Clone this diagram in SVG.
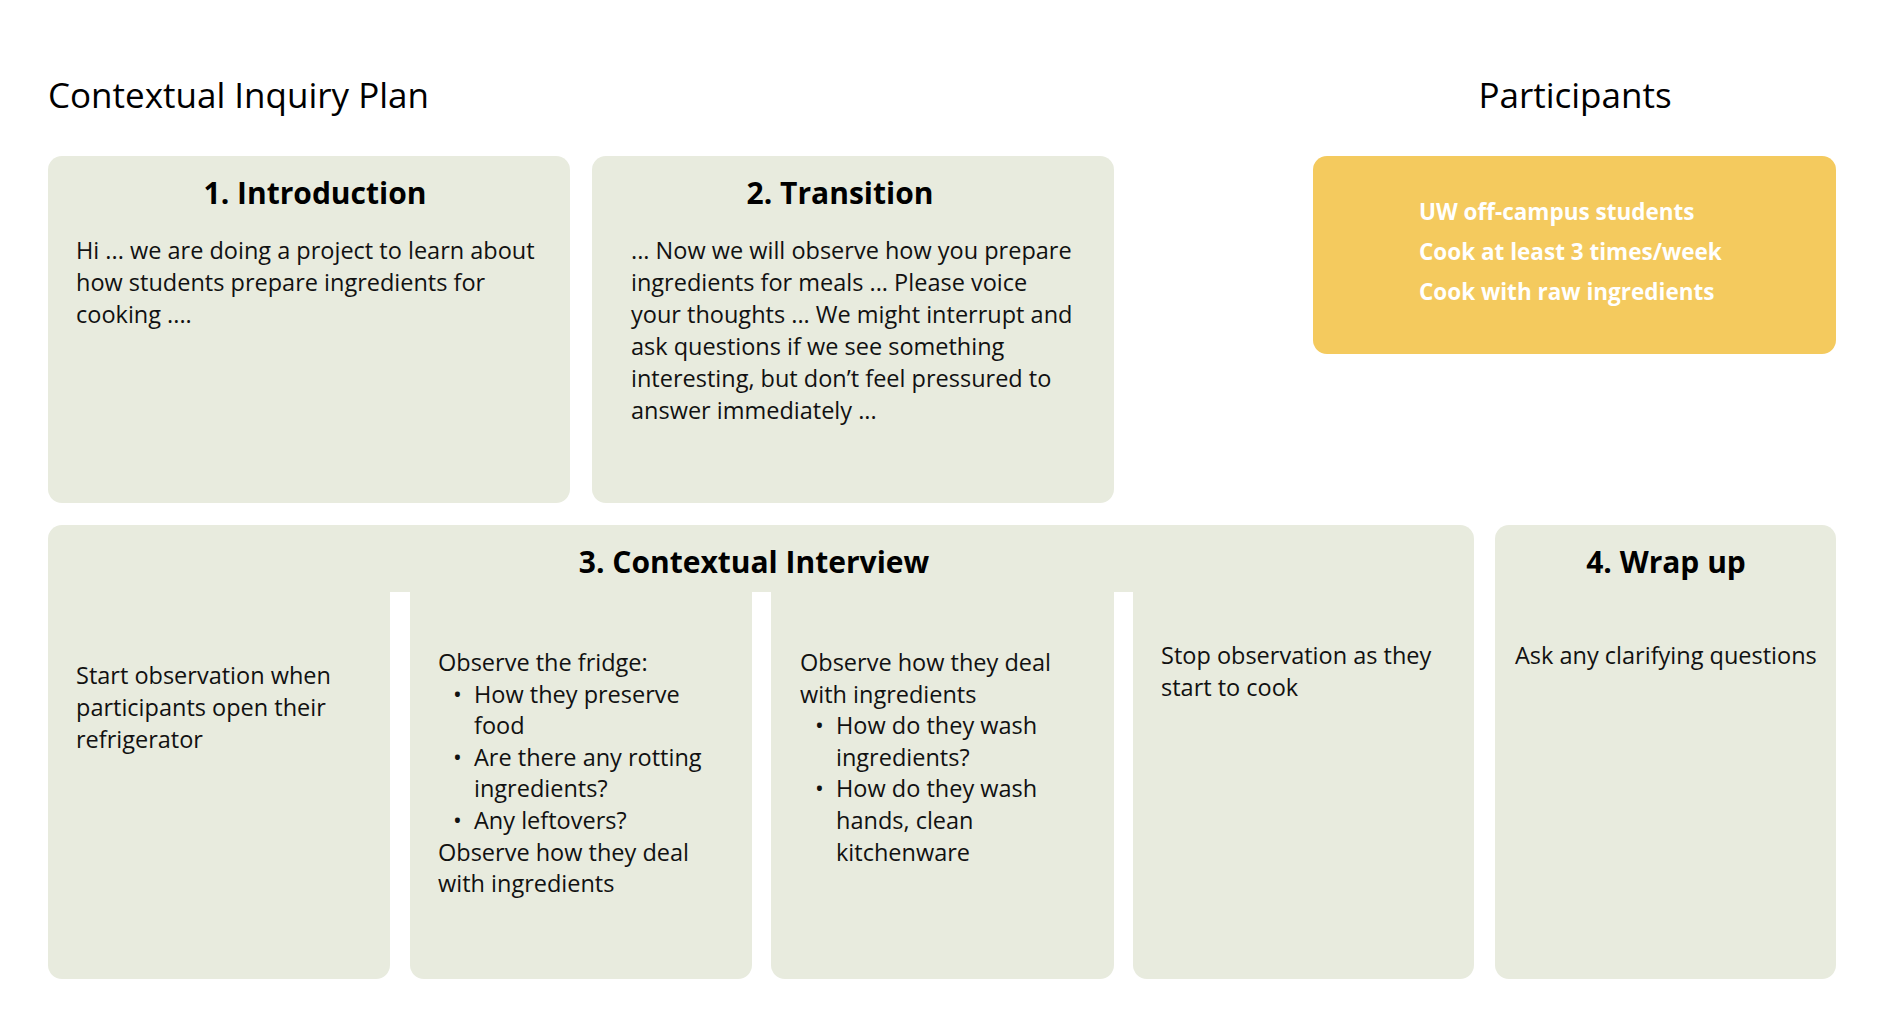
<svg xmlns="http://www.w3.org/2000/svg" width="1884" height="1029" viewBox="0 0 1884 1029">
<style>
.box{fill:#E8EBDE}
.yel{fill:#F4CA5E}
.h1{font-family:"Open Sans","Noto Sans",sans-serif;font-size:35px;fill:#000}
.h2{font-family:"Open Sans","Noto Sans",sans-serif;font-size:30px;font-weight:700;fill:#000;text-anchor:middle}
.t{font-family:"Open Sans","Noto Sans",sans-serif;font-size:23.5px;fill:#111}
.w{font-family:"Open Sans","Noto Sans",sans-serif;font-size:22.5px;font-weight:700;fill:#fff}
</style>
<rect width="1884" height="1029" fill="#fff"/>
<text class="h1" x="48" y="108">Contextual Inquiry Plan</text>
<text class="h1" x="1575" y="108" text-anchor="middle">Participants</text>

<g id="intro">
<rect class="box" x="48" y="156" width="522" height="347" rx="14"/>
<text class="h2" x="315" y="204">1. Introduction</text>
<text class="t" x="76"><tspan x="76" y="259">Hi ... we are doing a project to learn about</tspan><tspan x="76" y="291">how students prepare ingredients for</tspan><tspan x="76" y="323">cooking ....</tspan></text>
</g>

<g id="transition">
<rect class="box" x="592" y="156" width="522" height="347" rx="14"/>
<text class="h2" x="840" y="204">2. Transition</text>
<text class="t"><tspan x="631" y="259">... Now we will observe how you prepare</tspan><tspan x="631" y="291">ingredients for meals ... Please voice</tspan><tspan x="631" y="323">your thoughts ... We might interrupt and</tspan><tspan x="631" y="355">ask questions if we see something</tspan><tspan x="631" y="387">interesting, but don’t feel pressured to</tspan><tspan x="631" y="419">answer immediately ...</tspan></text>
</g>

<g id="participants">
<rect class="yel" x="1313" y="156" width="523" height="198" rx="14"/>
<text class="w"><tspan x="1419" y="220">UW off-campus students</tspan><tspan x="1419" y="260">Cook at least 3 times/week</tspan><tspan x="1419" y="300">Cook with raw ingredients</tspan></text>
</g>

<g id="interview">
<path class="box" d="M48,539 a14,14 0 0 1 14,-14 H1460 a14,14 0 0 1 14,14 V592 H48 Z"/>
<text class="h2" x="754" y="573">3. Contextual Interview</text>
<g id="col1">
<path class="box" d="M48,591 H390 V965 a14,14 0 0 1 -14,14 H62 a14,14 0 0 1 -14,-14 Z"/>
<text class="t"><tspan x="76" y="684">Start observation when</tspan><tspan x="76" y="716">participants open their</tspan><tspan x="76" y="748">refrigerator</tspan></text>
</g>
<g id="col2">
<path class="box" d="M410,591 H752 V965 a14,14 0 0 1 -14,14 H424 a14,14 0 0 1 -14,-14 Z"/>
<text class="t"><tspan x="438" y="671">Observe the fridge:</tspan><tspan x="453" y="703">•</tspan><tspan x="474" y="703">How they preserve</tspan><tspan x="474" y="734">food</tspan><tspan x="453" y="766">•</tspan><tspan x="474" y="766">Are there any rotting</tspan><tspan x="474" y="797">ingredients?</tspan><tspan x="453" y="829">•</tspan><tspan x="474" y="829">Any leftovers?</tspan><tspan x="438" y="861">Observe how they deal</tspan><tspan x="438" y="892">with ingredients</tspan></text>
</g>
<g id="col3">
<path class="box" d="M771,591 H1114 V965 a14,14 0 0 1 -14,14 H785 a14,14 0 0 1 -14,-14 Z"/>
<text class="t"><tspan x="800" y="671">Observe how they deal</tspan><tspan x="800" y="703">with ingredients</tspan><tspan x="815" y="734">•</tspan><tspan x="836" y="734">How do they wash</tspan><tspan x="836" y="766">ingredients?</tspan><tspan x="815" y="797">•</tspan><tspan x="836" y="797">How do they wash</tspan><tspan x="836" y="829">hands, clean</tspan><tspan x="836" y="861">kitchenware</tspan></text>
</g>
<g id="col4">
<path class="box" d="M1133,591 H1474 V965 a14,14 0 0 1 -14,14 H1147 a14,14 0 0 1 -14,-14 Z"/>
<text class="t"><tspan x="1161" y="664">Stop observation as they</tspan><tspan x="1161" y="696">start to cook</tspan></text>
</g>
</g>

<g id="wrapup">
<rect class="box" x="1495" y="525" width="341" height="454" rx="14"/>
<text class="h2" x="1666" y="573">4. Wrap up</text>
<text class="t" x="1515" y="664">Ask any clarifying questions</text>
</g>

<g id="connectors"></g>
</svg>
